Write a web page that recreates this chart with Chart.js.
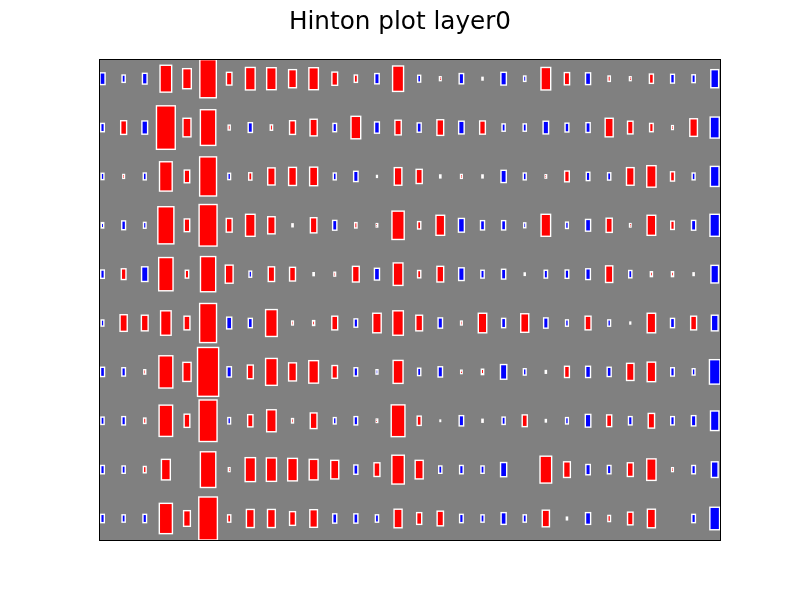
<!DOCTYPE html>
<html>
<head>
<meta charset="utf-8">
<title>Hinton plot layer0</title>
<script src="https://cdn.jsdelivr.net/npm/chart.js@4/dist/chart.umd.min.js"></script>
<style>
	body { margin: 0; background: #fff; }
	canvas { display: block; }
</style>
</head>
<body>
<canvas id="hintonChart" width="800" height="600"></canvas>
<script>
// Signed box sizes (red = positive, blue = negative)
const row0 = [-0.24, -0.15, -0.22, 0.55, 0.41, 0.78, 0.26, 0.46, 0.45, 0.37, 0.45, 0.27, 0.15, -0.21, 0.52, -0.14, 0.08, -0.21, 0.055, -0.26, -0.11, 0.46, 0.25, -0.24, 0.11, 0.08, 0.19, -0.18, -0.16, -0.37];
const row1 = [-0.17, 0.28, -0.27, 0.89, 0.38, 0.73, 0.1, -0.2, 0.11, 0.28, 0.34, -0.17, 0.46, -0.23, 0.3, -0.19, 0.32, -0.26, 0.27, -0.15, -0.15, -0.26, -0.18, -0.2, 0.38, 0.26, 0.17, 0.08, 0.36, -0.43];
const row2 = [-0.13, 0.08, -0.14, 0.6, 0.26, 0.8, -0.13, 0.15, 0.35, 0.37, 0.38, -0.14, -0.21, 0.04, 0.36, 0.29, 0.06, 0.08, 0.06, -0.25, -0.14, 0.07, 0.22, -0.17, -0.15, 0.36, 0.44, 0.19, -0.14, -0.41];
const row3 = [-0.11, -0.18, -0.12, 0.76, 0.26, 0.85, 0.28, 0.45, 0.35, 0.06, 0.31, -0.2, 0.11, 0.07, 0.58, 0.15, 0.41, -0.28, -0.19, -0.19, -0.1, 0.45, -0.13, -0.24, 0.29, 0.07, 0.41, 0.17, -0.2, -0.45];
const row4 = [-0.17, 0.22, -0.3, 0.68, 0.16, 0.72, 0.37, -0.125, 0.3, 0.28, 0.06, 0.08, 0.32, -0.24, 0.46, 0.15, 0.32, -0.26, -0.16, -0.2, 0.05, -0.16, -0.17, -0.22, 0.34, -0.15, 0.1, 0.1, 0.055, -0.36];
const row5 = [-0.125, 0.34, 0.32, 0.5, 0.28, 0.8, -0.24, -0.19, 0.55, 0.08, 0.1, 0.28, -0.17, 0.4, 0.5, 0.32, -0.21, 0.08, 0.4, -0.19, 0.38, -0.21, -0.13, 0.28, -0.13, 0.04, 0.4, -0.19, 0.28, -0.32];
const row6 = [-0.19, -0.17, 0.09, 0.66, 0.39, 1.0, -0.21, 0.28, 0.55, 0.37, 0.46, 0.26, -0.17, -0.09, 0.47, -0.15, -0.21, 0.07, 0.11, -0.3, -0.13, 0.055, 0.23, -0.23, -0.19, 0.35, 0.4, -0.17, -0.13, -0.5];
const row7 = [-0.15, -0.17, 0.11, 0.64, 0.27, 0.85, -0.13, 0.25, 0.45, 0.09, 0.32, -0.13, -0.17, 0.07, 0.65, 0.19, 0.03, -0.21, 0.06, -0.15, 0.24, 0.05, -0.13, -0.26, 0.24, -0.17, 0.3, -0.17, -0.21, -0.4];
const row8 = [-0.17, -0.15, 0.13, 0.42, 0, 0.73, 0.08, 0.49, 0.48, 0.46, 0.42, 0.38, -0.19, 0.28, 0.59, 0.38, -0.15, -0.17, -0.15, -0.29, 0, 0.55, 0.32, -0.21, -0.17, 0.28, 0.44, 0.08, -0.17, -0.32];
const row9 = [-0.17, -0.15, -0.17, 0.62, 0.32, 0.88, 0.15, 0.37, 0.37, 0.28, 0.36, -0.19, -0.19, -0.15, 0.38, 0.24, 0.3, -0.17, -0.15, -0.24, -0.15, 0.34, 0.055, -0.24, 0.125, 0.26, 0.38, 0, -0.17, -0.46];

const weights = [row0, row1, row2, row3, row4, row5, row6, row7, row8, row9];

// Split cells into positive / negative point lists
const positiveCells = [];
const negativeCells = [];
weights.forEach(function (row, r) {
	row.forEach(function (s, c) {
		if (s > 0) positiveCells.push({ x: c, y: r, s: s });
		else if (s < 0) negativeCells.push({ x: c, y: r, s: s });
	});
});

// Axis limits hug the boxes, like matplotlib's autoscale with no margins
let xMin = Infinity, xMax = -Infinity, yMin = Infinity, yMax = -Infinity;
positiveCells.concat(negativeCells).forEach(function (p) {
	const h = Math.abs(p.s) / 2;
	xMin = Math.min(xMin, p.x - h);
	xMax = Math.max(xMax, p.x + h);
	yMin = Math.min(yMin, p.y - h);
	yMax = Math.max(yMax, p.y + h);
});

// Draws each cell as a rectangle through the chart scales
const hintonPlugin = {
	id: "hinton",
	beforeDatasetsDraw(chart) {
		const ctx = chart.ctx;
		const area = chart.chartArea;
		ctx.save();
		ctx.fillStyle = "#808080";
		ctx.fillRect(area.left, area.top, area.right - area.left, area.bottom - area.top);
		ctx.restore();
	},
	afterDatasetsDraw(chart) {
		const ctx = chart.ctx;
		const area = chart.chartArea;
		const xs = chart.scales.x;
		const ys = chart.scales.y;

		ctx.save();
		ctx.beginPath();
		ctx.rect(area.left, area.top, area.right - area.left, area.bottom - area.top);
		ctx.clip();

		chart.data.datasets.forEach(function (ds) {
			ds.data.forEach(function (p) {
				const h = Math.abs(p.s) / 2;
				const x0 = xs.getPixelForValue(p.x - h);
				const x1 = xs.getPixelForValue(p.x + h);
				const y0 = ys.getPixelForValue(p.y - h);
				const y1 = ys.getPixelForValue(p.y + h);
				const left = Math.min(x0, x1), top = Math.min(y0, y1);
				const w = Math.abs(x1 - x0), hgt = Math.abs(y1 - y0);
				ctx.fillStyle = ds.backgroundColor;
				ctx.fillRect(left, top, w, hgt);
				ctx.lineWidth = 1.4;
				ctx.strokeStyle = "#ffffff";
				ctx.strokeRect(left, top, w, hgt);
			});
		});
		ctx.restore();

		// Axes frame
		ctx.save();
		ctx.lineWidth = 1;
		ctx.strokeStyle = "#000000";
		ctx.strokeRect(Math.round(area.left) - 0.5, Math.round(area.top) - 0.5,
			Math.round(area.right - area.left) + 1, Math.round(area.bottom - area.top) + 1);
		ctx.restore();
	},
};

const ctx = document.getElementById("hintonChart").getContext("2d");
new Chart(ctx, {
	type: "scatter",
	data: {
		datasets: [
			{
				label: "positive",
				data: positiveCells,
				backgroundColor: "#ff0000",
				pointRadius: 0,
			},
			{
				label: "negative",
				data: negativeCells,
				backgroundColor: "#0000ff",
				pointRadius: 0,
			},
		],
	},
	options: {
		responsive: false,
		animation: false,
		devicePixelRatio: 1,
		events: [],
		// symmetric side padding keeps the title centred on the figure
		layout: {
			padding: { left: 80, right: 80, top: 0, bottom: 60 },
		},
		plugins: {
			legend: { display: false },
			tooltip: { enabled: false },
			title: {
				display: true,
				text: "Hinton plot layer0",
				color: "#000000",
				font: { family: "DejaVu Sans", size: 24.7, weight: "normal" },
				padding: { top: 8, bottom: 22 },
			},
		},
		scales: {
			x: { type: "linear", display: false, min: xMin, max: xMax },
			y: {
				type: "linear",
				reverse: true,
				min: yMin,
				max: yMax,
				ticks: { display: false },
				grid: { display: false },
				border: { display: false },
				// empty 20px strip so the plot starts at x=100
				afterFit: function (scale) {
					scale.width = 20;
				},
			},
		},
	},
	plugins: [hintonPlugin],
});
</script>
</body>
</html>
